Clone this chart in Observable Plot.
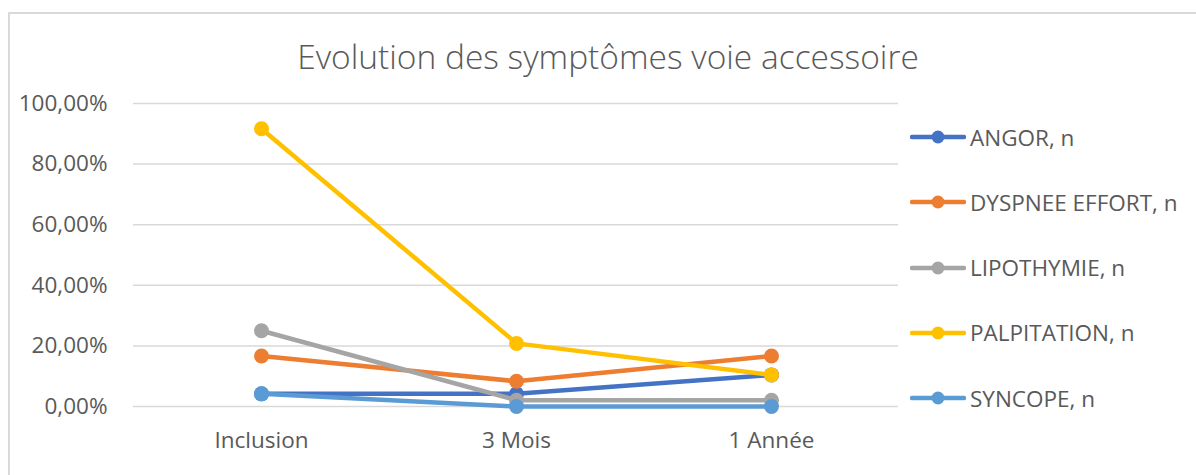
<!DOCTYPE html>
<html>
<head>
<meta charset="utf-8">
<script src="https://cdn.jsdelivr.net/npm/d3@7"></script>
<script src="https://cdn.jsdelivr.net/npm/@observablehq/plot@0.6"></script>
<style>
  html, body { margin: 0; padding: 0; background: #fff; }
  #wrap { position: relative; width: 1196px; height: 475px; overflow: hidden; font-family: "Open Sans", sans-serif; }
  #frame { position: absolute; left: 8px; top: 12px; width: 1300px; height: 600px; border-left: 2px solid #d9d9d9; border-top: 2px solid #d9d9d9; }
  #title { position: absolute; left: 0; width: 1216px; top: 40px; text-align: center; font-size: 33.5px; font-weight: 300; color: #595959; line-height: 1; }
  #legend { position: absolute; left: 910px; top: 120px; }
  .row { position: absolute; left: 0; display: flex; align-items: center; height: 34px; white-space: nowrap; }
  .row span { font-size: 22.5px; color: #595959; margin-left: 4px; }
  #chart { position: absolute; left: 0; top: 0; }
</style>
</head>
<body>
<div id="wrap">
  <div id="frame"></div>
  <div id="chart"></div>
  <div id="title">Evolution des symptômes voie accessoire</div>
  <div id="legend"></div>
</div>
<script>
const categories = ["Inclusion", "3 Mois", "1 Année"];
const seriesNames = ["ANGOR, n", "DYSPNEE EFFORT, n", "LIPOTHYMIE, n", "PALPITATION, n", "SYNCOPE, n"];
const angor = [0.0417, 0.0417, 0.1042];
const dyspnee = [0.1667, 0.0833, 0.1667];
const lipothymie = [0.25, 0.0208, 0.0208];
const palpitation = [0.9167, 0.2083, 0.1042];
const syncope = [0.0417, 0, 0];
const colors = ["#4472C4", "#ED7D31", "#A5A5A5", "#FFC000", "#5B9BD5"];
const yTicks = [0, 0.2, 0.4, 0.6, 0.8, 1.0];

const seriesValues = [angor, dyspnee, lipothymie, palpitation, syncope];
const data = seriesNames.map((s, i) => categories.map((c, j) => ({series: s, cat: c, value: seriesValues[i][j]})));

const fmt = d => (d * 100).toFixed(2).replace(".", ",") + "%";

const marks = [
  Plot.ruleY(yTicks, {stroke: "#d9d9d9", strokeWidth: 1.5}),
  Plot.axisY(yTicks, {tickFormat: fmt, tickSize: 0, tickPadding: 26, fontSize: 22.5, fill: "#595959", label: null}),
  Plot.axisX({tickSize: 0, tickPadding: 26, fontSize: 22.5, fill: "#595959", label: null})
];
data.forEach(rows => {
  marks.push(Plot.line(rows, {x: "cat", y: "value", stroke: "series", strokeWidth: 4.5, strokeLinecap: "round", strokeLinejoin: "round"}));
  marks.push(Plot.dot(rows, {x: "cat", y: "value", fill: "series", r: 7.5}));
});

const chart = Plot.plot({
  width: 1196,
  height: 475,
  marginTop: 103,
  marginBottom: 69,
  marginLeft: 133,
  marginRight: 298,
  style: {fontFamily: "Open Sans, sans-serif", background: "transparent", overflow: "visible"},
  x: {type: "point", domain: categories, padding: 0.5, axis: null},
  y: {domain: [0, 1], axis: null},
  color: {domain: seriesNames, range: colors},
  marks
});
document.getElementById("chart").appendChild(chart);

const legend = document.getElementById("legend");
seriesNames.forEach((s, i) => {
  const row = document.createElement("div");
  row.className = "row";
  row.style.top = (i * 65.3) + "px";
  row.innerHTML = `<svg width="56" height="20"><line x1="2" y1="10" x2="54" y2="10" stroke="${colors[i]}" stroke-width="4.5" stroke-linecap="round"/><circle cx="28" cy="10" r="6.5" fill="${colors[i]}"/></svg><span>${s}</span>`;
  legend.appendChild(row);
});
</script>
</body>
</html>
